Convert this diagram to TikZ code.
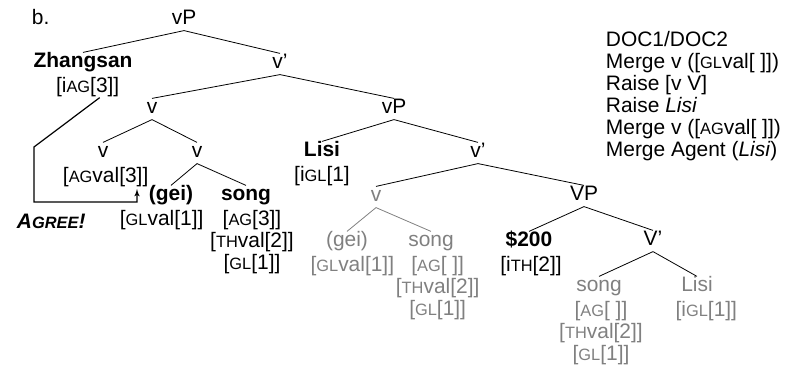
\documentclass[tikz,border=0pt]{standalone}
\usepackage{fontspec}
\setmainfont{Liberation Sans}
\usetikzlibrary{arrows,positioning}
\newcommand{\fcap}[1]{{\fontsize{12.3pt}{12.3pt}\selectfont #1}}

\begin{document}
\begin{tikzpicture}[
    x=0.75pt, y=-0.75pt,
    node distance=2pt,
    word/.style={
        inner sep=0.5pt,
        text height=11pt,
        text depth=3.5pt,
        font=\fontsize{15.7pt}{16.5pt}\selectfont
    },
    head/.style={
        word,
        font=\fontsize{15.7pt}{16.5pt}\selectfont\bfseries
    },
    feat/.style={
        inner sep=0.5pt,
        align=center,
        font=\fontsize{15.7pt}{16.5pt}\selectfont
    },
    ghost/.style={
        text=black!50
    },
    branch/.style={
        draw,
        line width=0.6pt
    },
    agree/.style={
        draw,
        -latex',
        line width=0.9pt
    }
]
    \useasboundingbox (0,0) rectangle (808,367);

    % Nodes
    \node [word, anchor=west] (label) at (31,20) {b.};
    \node [word] (vp1) at (184,20) {vP};

    \node [head] (zhangsan) at (83,63) {Zhangsan};
    \node [feat, below=2pt of zhangsan, xshift=3.5pt] (zfeat) {[i\fcap{AG}[3]]};
    \node [word] (vbar1) at (280,64) {v'};

    \node [word] (v1) at (152,109) {v};
    \node [word] (vp2) at (394,109) {vP};

    \node [word] (vleft) at (103,153) {v};
    \node [feat, below=2pt of vleft, xshift=2pt] (vlfeat) {[\fcap{AG}val[3]]};
    \node [word] (vright) at (197,153) {v};
    \node [head] (lisi) at (322,152) {Lisi};
    \node [feat, below=2pt of lisi] (lfeat) {[i\fcap{GL}[1]};
    \node [word] (vbar2) at (478,153) {v'};

    \node [head] (gei) at (171,196) {(gei)};
    \node [feat, below=2pt of gei, xshift=-7pt] (gfeat) {[\fcap{GL}val[1]]};
    \node [head] (song) at (246,196) {song};
    \node [feat, below=2pt of song, xshift=4.5pt] (sfeat) {[\fcap{AG}[3]]\\{}[\fcap{TH}val[2]]\\{}[\fcap{GL}[1]]};
    \node [word, ghost] (vgray) at (376,197) {v};
    \node [word] (vp3) at (584,196) {VP};

    \node [word, ghost] (gei2) at (347,242) {(gei)};
    \node [feat, ghost, below=2pt of gei2, xshift=4pt] (g2feat) {[\fcap{GL}val[1]]};
    \node [word, ghost] (song2) at (431,242) {song};
    \node [feat, ghost, below=2pt of song2, xshift=5pt] (s2feat) {[\fcap{AG}[ ]]\\{}[\fcap{TH}val[2]]\\{}[\fcap{GL}[1]]};
    \node [head] (money) at (529,242) {\$200};
    \node [feat, below=2pt of money, xshift=1.5pt] (mfeat) {[i\fcap{TH}[2]]};
    \node [word] (vbar3) at (653,241) {V'};

    \node [word, ghost] (song3) at (599,287) {song};
    \node [feat, ghost, below=2pt of song3, xshift=1.5pt] (s3feat) {[\fcap{AG}[ ]]\\{}[\fcap{TH}val[2]]\\{}[\fcap{GL}[1]]};
    \node [word, ghost] (lisi2) at (697,287) {Lisi};
    \node [feat, ghost, below=2pt of lisi2, xshift=7pt] (l2feat) {[i\fcap{GL}[1]]};

    \node [feat, anchor=west] (agreelabel) at (16,221) {\bfseries\itshape A\fcap{GREE}!};

    % Derivation steps
    \node [feat, align=left, anchor=north west] (steps) at (605,30) {DOC1/DOC2\\Merge v ([\fcap{GL}val[ ]])\\Raise [v V]\\Raise \textit{Lisi}\\Merge v ([\fcap{AG}val[ ]])\\Merge Agent (\textit{Lisi})};

    % Edges
    \path [branch] (vp1.south) -- (zhangsan.north);
    \path [branch] (vp1.south) -- (vbar1.north);
    \path [branch] (vbar1.south) -- (v1.north);
    \path [branch] (vbar1.south) -- (vp2.north);
    \path [branch] (v1.south) -- (vleft.north);
    \path [branch] (v1.south) -- (vright.north);
    \path [branch] (vright.south) -- (gei.north);
    \path [branch] (vright.south) -- (song.north);
    \path [branch] (vp2.south) -- (lisi.north);
    \path [branch] (vp2.south) -- (vbar2.north);
    \path [branch] (vbar2.south) -- (vgray.north);
    \path [branch] (vbar2.south) -- (vp3.north);
    \path [branch, black!50] (vgray.south) -- (gei2.north);
    \path [branch, black!50] (vgray.south) -- (song2.north);
    \path [branch] (vp3.south) -- (money.north);
    \path [branch] (vp3.south) -- (vbar3.north);
    \path [branch] (vbar3.south) -- (song3.north);
    \path [branch] (vbar3.south) -- (lisi2.north);

    % Agree arrow
    \coordinate (agreebend) at (34,147);
    \coordinate (agreefoot) at (137,202);
    \coordinate (agreetip) at (137,189);
    \path [agree] ([xshift=9pt]zfeat.south) -- (agreebend) |- (agreefoot) -- (agreetip);

\end{tikzpicture}
\end{document}
